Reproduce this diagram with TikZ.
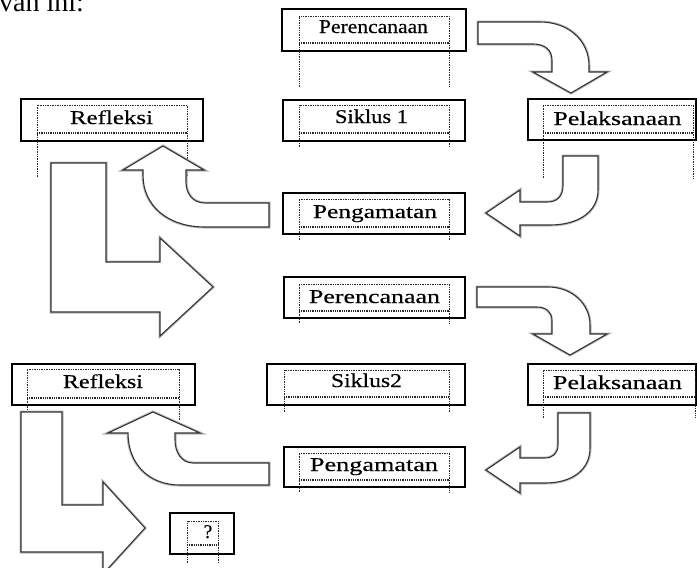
\documentclass[tikz,border=0pt]{standalone}
\usepackage{fontspec}
\setmainfont{Liberation Serif}
\newfontfamily\boxfont[FakeBold=0.35]{Liberation Serif}
\usepackage{graphicx}
\tikzset{
  obox/.style={draw=black, line width=1.2pt, fill=white, inner sep=0pt},
  dotbox/.style={draw=black!85, line width=0.8pt, dash pattern=on 0.8pt off 0.9pt},
  dotbase/.style={draw=black!85, line width=1.4pt, dash pattern=on 0.9pt off 0.9pt},
  lbl/.style={anchor=base, inner sep=0pt, font=\boxfont\fontsize{19.5}{22}\selectfont},
  barrow/.style={fill=white, draw=black!80, line width=1.1pt, line join=miter,
                 preaction={draw=black!28, line width=3pt}},
}
\newcommand\tw[2]{\resizebox{#1pt}{\height}{#2}}
% inner dotted frame: x1, ytop, x2, ybottom, yext
\newcommand\innerdots[5]{%
  \draw[dotbox] (#1,#5) -- (#1,#2) -- (#3,#2) -- (#3,#5);
  \draw[dotbase] (#1,#4) -- (#3,#4);}
\begin{document}
\begin{tikzpicture}[x=1pt,y=-1pt]
\useasboundingbox (0,0) rectangle (697,568);

\node[anchor=base west, inner sep=0pt, font=\fontsize{28}{30}\selectfont] (intro) at (-1,11) {van ini:};

% ---------- cycle 1 boxes ----------
\node[obox, minimum width=184pt, minimum height=42pt] (p1) at (374,30) {};
\innerdots{299}{16}{449}{43}{87}
\node[lbl] (p1t) at (373.5,33) {\tw{109}{Perencanaan}};

\node[obox, minimum width=182pt, minimum height=41pt] (s1) at (374,120.5) {};
\innerdots{299}{105}{449}{133}{147}
\node[lbl] (s1t) at (371.5,123) {\tw{73}{Siklus 1}};

\node[obox, minimum width=182pt, minimum height=41pt] (g1) at (374,213.5) {};
\innerdots{299}{199}{449}{227}{240}
\node[lbl] (g1t) at (375,218) {\tw{124}{Pengamatan}};

\node[obox, minimum width=168pt, minimum height=41pt] (l1) at (612,119.5) {};
\innerdots{543}{105}{693}{133}{178}
\node[lbl] (l1t) at (617.5,125) {\tw{128}{Pelaksanaan}};

\node[obox, minimum width=182pt, minimum height=42pt] (r1) at (112,120) {};
\innerdots{37}{105}{187}{133}{177}
\node[lbl] (r1t) at (111.5,124) {\tw{83}{Refleksi}};

% ---------- cycle 2 boxes ----------
\node[obox, minimum width=181pt, minimum height=41pt] (p2) at (374.5,297.5) {};
\innerdots{299}{284}{449}{311}{323}
\node[lbl] (p2t) at (374.5,303) {\tw{131}{Perencanaan}};

\node[obox, minimum width=198pt, minimum height=41pt] (s2) at (366,384.5) {};
\innerdots{284}{370}{449}{397}{412}
\node[lbl] (s2t) at (366.5,387) {\tw{71}{Siklus2}};

\node[obox, minimum width=168pt, minimum height=41pt] (l2) at (612,384.5) {};
\innerdots{543}{370}{695}{397}{418}
\node[lbl] (l2t) at (617.5,389) {\tw{129}{Pelaksanaan}};

\node[obox, minimum width=181pt, minimum height=40pt] (g2) at (374.5,467) {};
\innerdots{299}{453}{449}{480}{492}
\node[lbl] (g2t) at (374,471) {\tw{128}{Pengamatan}};

\node[obox, minimum width=183pt, minimum height=41pt] (r2) at (103.5,384.5) {};
\innerdots{27}{369}{179}{398}{420}
\node[lbl] (r2t) at (103,388) {\tw{80}{Refleksi}};

\node[obox, minimum width=64pt, minimum height=41pt] (q) at (202,533.5) {};
\innerdots{187}{521}{218}{545}{563}
\node[lbl] (qt) at (208,538) {?};

% ---------- block arrows, cycle 1 ----------
\draw[barrow] (478,22) -- (540,22) .. controls (568,22) and (589,40) .. (589,66)
  -- (589,72) -- (607,72) -- (571,93) -- (533,72) -- (552,72) -- (552,60)
  .. controls (552,50) and (545,44) .. (533,44) -- (478,44) -- cycle;

\draw[barrow] (563,156) -- (598,156) -- (598,190) .. controls (598,212) and (578,225) .. (550,225)
  -- (520,225) -- (520,236) -- (486,213) -- (520,190) -- (520,202) -- (548,202)
  .. controls (557,202) and (563,196) .. (563,186) -- cycle;

\draw[barrow] (269,203) -- (205,203) .. controls (193,203) and (186,194) .. (186,182)
  -- (186,170) -- (204,170) -- (163,146) -- (123,170) -- (143,170) -- (143,175)
  .. controls (143,206) and (168,227) .. (205,227) -- (269,227) -- cycle;

\draw[barrow] (51,163) -- (106,163) -- (106,262) -- (160,262) -- (160,238) -- (213,287)
  -- (160,336) -- (160,312) -- (51,312) -- cycle;

% ---------- block arrows, cycle 2 ----------
\draw[barrow] (477,287) -- (548,287) .. controls (572,287) and (590,304) .. (590,325)
  -- (590,334) -- (607,334) -- (570,355) -- (533,334) -- (552,334) -- (552,320)
  .. controls (552,312) and (546,307) .. (537,307) -- (477,307) -- cycle;

\draw[barrow] (558,413) -- (590,413) -- (590,448) .. controls (590,470) and (572,483) .. (545,483)
  -- (520,483) -- (520,493) -- (486,470) -- (520,447) -- (520,458) -- (545,458)
  .. controls (553,458) and (558,453) .. (558,445) -- cycle;

\draw[barrow] (269,463) -- (193,463) .. controls (182,463) and (175,453) .. (175,440)
  -- (175,433) -- (200,433) -- (153,412) -- (108,433) -- (128,433)
  .. controls (128,463) and (148,485) .. (180,485) -- (269,485) -- cycle;

\draw[barrow] (21,412) -- (62,412) -- (62,505) -- (103,505) -- (103,482) -- (145,528)
  -- (103,574) -- (103,552) -- (21,552) -- cycle;
\end{tikzpicture}
\end{document}
